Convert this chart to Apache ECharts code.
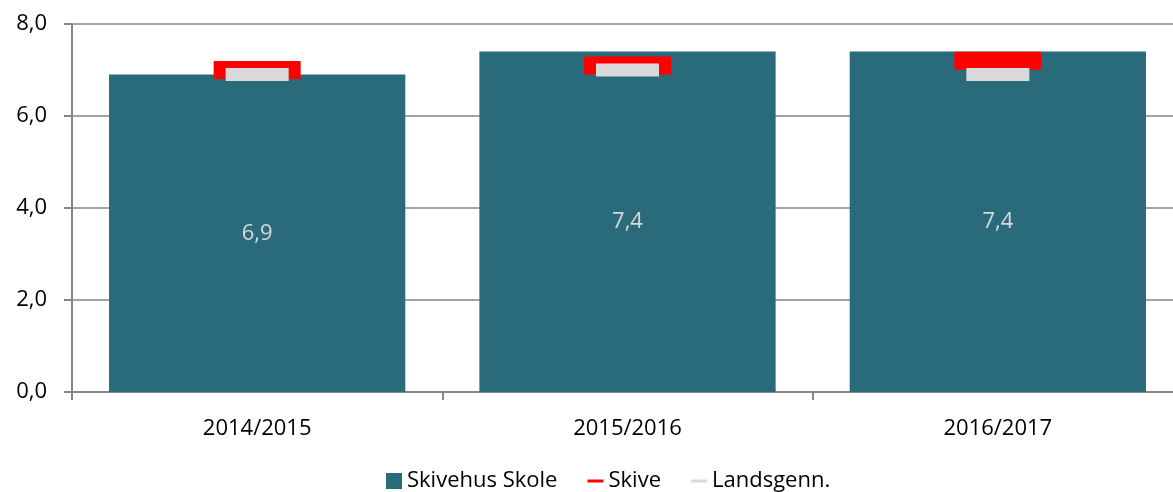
<!DOCTYPE html>
<html>
<head>
<meta charset="utf-8">
<title>Skivehus Skole</title>
<script src="https://cdn.jsdelivr.net/npm/echarts@6/dist/echarts.min.js"></script>
<style>
  html, body { margin: 0; padding: 0; background: #fff; }
  #main { width: 1173px; height: 492px; }
</style>
</head>
<body>
<div id="main"></div>
<script>
// data
var years      = ['2014/2015', '2015/2016', '2016/2017'];
var skolen     = [6.9, 7.4, 7.4];   // Skivehus Skole
var kommunen   = [7.0, 7.1, 7.2];   // Skive
var landsgenn  = [6.9, 7.0, 6.9];   // Landsgenn.

var FONT = 'Open Sans';
var chart = echarts.init(document.getElementById('main'));

// legend icons: thin bars inside a square box (keeps the box from being stretched)
var lineIcon = 'path://M0,0M16,16M0,6.5h16v3h-16z';

function komma(v) { return v.toFixed(1).replace('.', ','); }

var option = {
    animation: false,
    textStyle: { fontFamily: FONT },
    // plot runs a little past the right edge of the canvas
    grid: { left: 72, top: 24, width: 1111, height: 368, outerBoundsMode: 'none' },
    legend: {
        top: 465,
        left: 381,
        itemWidth: 16,
        itemHeight: 16,
        itemGap: 30,
        textStyle: { fontFamily: FONT, fontSize: 22, color: '#000' },
        data: [
            { name: 'Skivehus Skole', icon: 'rect' },
            { name: 'Skive', icon: lineIcon },
            { name: 'Landsgenn.', icon: lineIcon }
        ]
    },
    xAxis: {
        type: 'category',
        data: years,
        axisLine: { lineStyle: { color: '#868686', width: 2 } },
        axisTick: { show: true, length: 8, lineStyle: { color: '#868686', width: 2 } },
        axisLabel: { fontFamily: FONT, fontSize: 22, color: '#000', margin: 26 }
    },
    yAxis: {
        type: 'value',
        min: 0,
        max: 8,
        interval: 2,
        axisLine: { show: true, lineStyle: { color: '#868686', width: 2 } },
        axisTick: { show: true, length: 8, lineStyle: { color: '#868686', width: 2 } },
        splitLine: { lineStyle: { color: '#868686', width: 1.5 } },
        axisLabel: { fontFamily: FONT, fontSize: 22, color: '#000', margin: 25, formatter: komma }
    },
    series: [
        {
            name: 'Skivehus Skole',
            type: 'bar',
            data: skolen,
            barWidth: '80%',
            itemStyle: { color: '#2a6b7b' },
            label: {
                show: true,
                position: 'inside',
                fontFamily: FONT,
                fontSize: 22,
                color: '#d9d9d9',
                formatter: function (p) { return komma(p.value); }
            }
        },
        {
            name: 'Skive',
            type: 'scatter',
            data: kommunen,
            symbol: 'rect',
            symbolSize: [87, 18],
            itemStyle: { color: '#ff0000', opacity: 1 },
            z: 3
        },
        {
            name: 'Landsgenn.',
            type: 'scatter',
            data: landsgenn,
            symbol: 'rect',
            symbolSize: [63, 13],
            itemStyle: { color: '#d9d9d9', opacity: 1 },
            z: 4
        }
    ]
};

chart.setOption(option);
</script>
</body>
</html>
